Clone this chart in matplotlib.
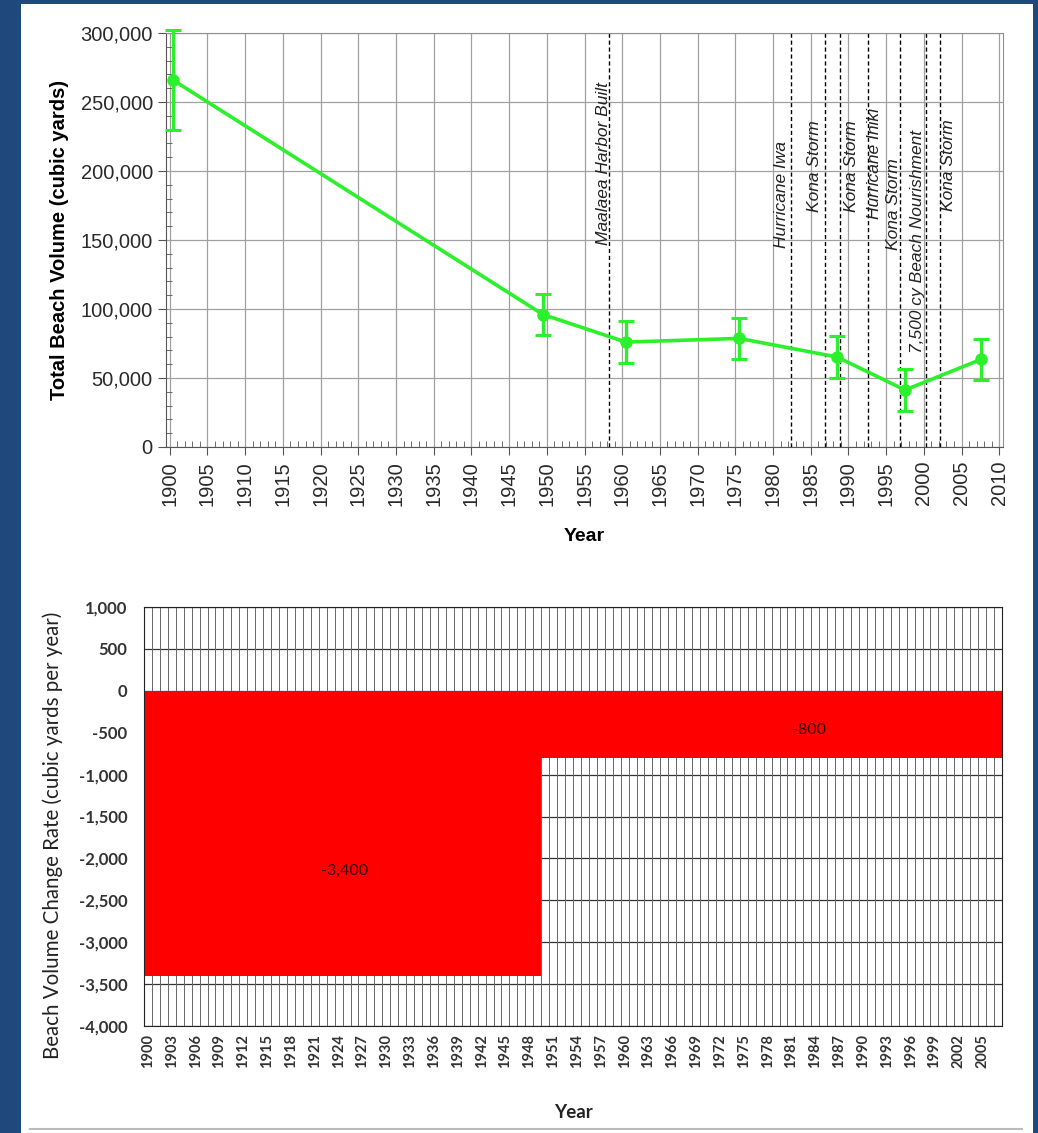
import matplotlib.pyplot as plt
import matplotlib.patches as mpatches
import numpy as np
from matplotlib.ticker import FuncFormatter, MultipleLocator

# ---- data: total beach volume survey points ----
survey_year = [1900.4, 1949.5, 1960.5, 1975.5, 1988.5, 1997.5, 2007.6]
beach_volume = [266000, 96000, 76000, 78700, 65200, 41300, 63500]
volume_err = [36000, 15000, 15000, 15000, 15000, 15000, 15000]

# ---- events marked by dashed lines ----
event_year = [1958.3, 1982.4, 1986.9, 1988.9, 1992.6, 1996.9, 2000.3, 2002.2]
event_name = ["Maalaea Harbor Built", "Hurricane Iwa", "Kona Storm", "Kona Storm",
              "Hurricane Iniki", "Kona Storm", "7,500 cy Beach Nourishment", "Kona Storm"]
# label anchor (x offset in years, y centre in cubic yards)
event_dx = [-0.8, -1.3, -1.4, 1.5, 0.8, -0.9, -1.1, 1.1]
event_ly = [205700, 182900, 203600, 203600, 205700, 175700, 148600, 204600]

# ---- data: annual change rate ----
rate_years = list(range(1900, 2008))
rate_periods = [(1900, 1949, -3400), (1950, 2007, -800)]
rate_labels = ["-3,400", "-800"]
rate_label_x = [1924.7, 1983.2]
rate_label_y = [-2150, -470]

GREEN = "#2cf02c"
BLUE = "#1f497d"

fig = plt.figure(figsize=(10.38, 11.33), dpi=100, facecolor=BLUE)
fig.patches.append(mpatches.Rectangle((21 / 1038, 0), (1033 - 21) / 1038, 1 - 4 / 1133,
                                      transform=fig.transFigure, facecolor="white",
                                      edgecolor="none", zorder=-5))
fig.add_artist(plt.Line2D([30 / 1038, 1022 / 1038], [1 - 1129 / 1133] * 2,
                          transform=fig.transFigure, color="#bbbbbb", lw=1.5))

thousands = FuncFormatter(lambda v, p: f"{v:,.0f}")

# ================= top panel =================
ax1 = fig.add_axes([166 / 1038, 1 - 447 / 1133, (1003 - 166) / 1038, (447 - 33) / 1133])
ax1.set_xlim(1899.5, 2010.5)
ax1.set_ylim(0, 300000)
ax1.xaxis.set_major_locator(MultipleLocator(5))
ax1.xaxis.set_minor_locator(MultipleLocator(1))
ax1.yaxis.set_major_locator(MultipleLocator(50000))
ax1.yaxis.set_minor_locator(MultipleLocator(10000))
ax1.yaxis.set_major_formatter(thousands)
ax1.grid(which="major", color="#a0a0a0", lw=0.9)
ax1.set_axisbelow(True)
for s in ax1.spines.values():
    s.set_color("#909090")
ax1.spines["left"].set_color("#555555")
ax1.spines["bottom"].set_color("#555555")
ax1.tick_params(which="major", direction="out", length=6, color="#555555",
                labelsize=14.5, labelcolor="#2a2a2a")
ax1.tick_params(which="minor", direction="in", length=4, color="#555555")
ax1.tick_params(axis="x", which="major", labelrotation=90, pad=4)
ax1.set_xticks(np.arange(1900, 2011, 5))
for lab in ax1.get_xticklabels() + ax1.get_yticklabels():
    lab.set_fontfamily("Liberation Sans")

for yr, name, dx, ly in zip(event_year, event_name, event_dx, event_ly):
    ax1.axvline(yr, color="black", lw=1.0, ls=(0, (3, 2)), zorder=2)
    ax1.text(yr + dx, ly, name, rotation=90, ha="center", va="center",
             fontsize=12.5, style="italic", family="Liberation Sans", color="#222222")

ax1.errorbar(survey_year, beach_volume, yerr=volume_err, color=GREEN, lw=2.6,
             marker="o", ms=8, capsize=6, capthick=2.2, elinewidth=2.4, zorder=4,
             clip_on=False)
ax1.set_ylabel("Total Beach Volume (cubic yards)", fontsize=14.5, fontweight="bold",
               family="Liberation Sans", labelpad=8)
ax1.set_xlabel("Year", fontsize=14, fontweight="bold", family="Liberation Sans", labelpad=16)

# ================= bottom panel =================
ax2 = fig.add_axes([144 / 1038, 1 - 1026 / 1133, (1002 - 144) / 1038, (1026 - 607) / 1133])
rate = []
for yr in rate_years:
    for start, end, val in rate_periods:
        if start <= yr <= end:
            rate.append(val)
idx = np.arange(len(rate_years))
ax2.bar(idx, rate, width=1.0, color="#ff0000", edgecolor="none", zorder=3)
ax2.set_xlim(-0.5, len(rate_years) - 0.5)
ax2.set_ylim(-4000, 1000)
ax2.yaxis.set_major_locator(MultipleLocator(500))
ax2.yaxis.set_major_formatter(thousands)
for b in np.arange(-0.5, len(rate_years), 1):
    ax2.axvline(b, color="#666666", lw=0.7, zorder=1)
ax2.grid(axis="y", color="#333333", lw=0.9, zorder=1)
ax2.set_axisbelow(True)
for s in ax2.spines.values():
    s.set_color("#222222")
    s.set_zorder(4)
ax2.set_xticks(idx[::3])
ax2.set_xticklabels([str(y) for y in rate_years[::3]], rotation=90)
ax2.tick_params(axis="x", length=0, pad=6, labelsize=10.5, labelcolor="#333333")
ax2.tick_params(axis="y", length=0, pad=12, labelsize=12, labelcolor="#333333")
for lab in ax2.get_xticklabels() + ax2.get_yticklabels():
    lab.set_fontfamily("Lato")
    lab.set_fontweight("bold")

for txt, lx, ly in zip(rate_labels, rate_label_x, rate_label_y):
    ax2.text(rate_years.index(int(lx)) + lx % 1, ly, txt, ha="center", va="center",
             fontsize=11.5, family="Lato", color="#3a0000", zorder=5)

ax2.set_ylabel("Beach Volume Change Rate (cubic yards per year)", fontsize=14.8,
               family="Lato", color="#222222")
ax2.yaxis.set_label_coords(-0.094, 0.455)
ax2.set_xlabel("Year", fontsize=13.5, family="Lato", fontweight="bold",
               color="#222222", labelpad=26)

fig.savefig("out.png", dpi=100, facecolor=BLUE)
